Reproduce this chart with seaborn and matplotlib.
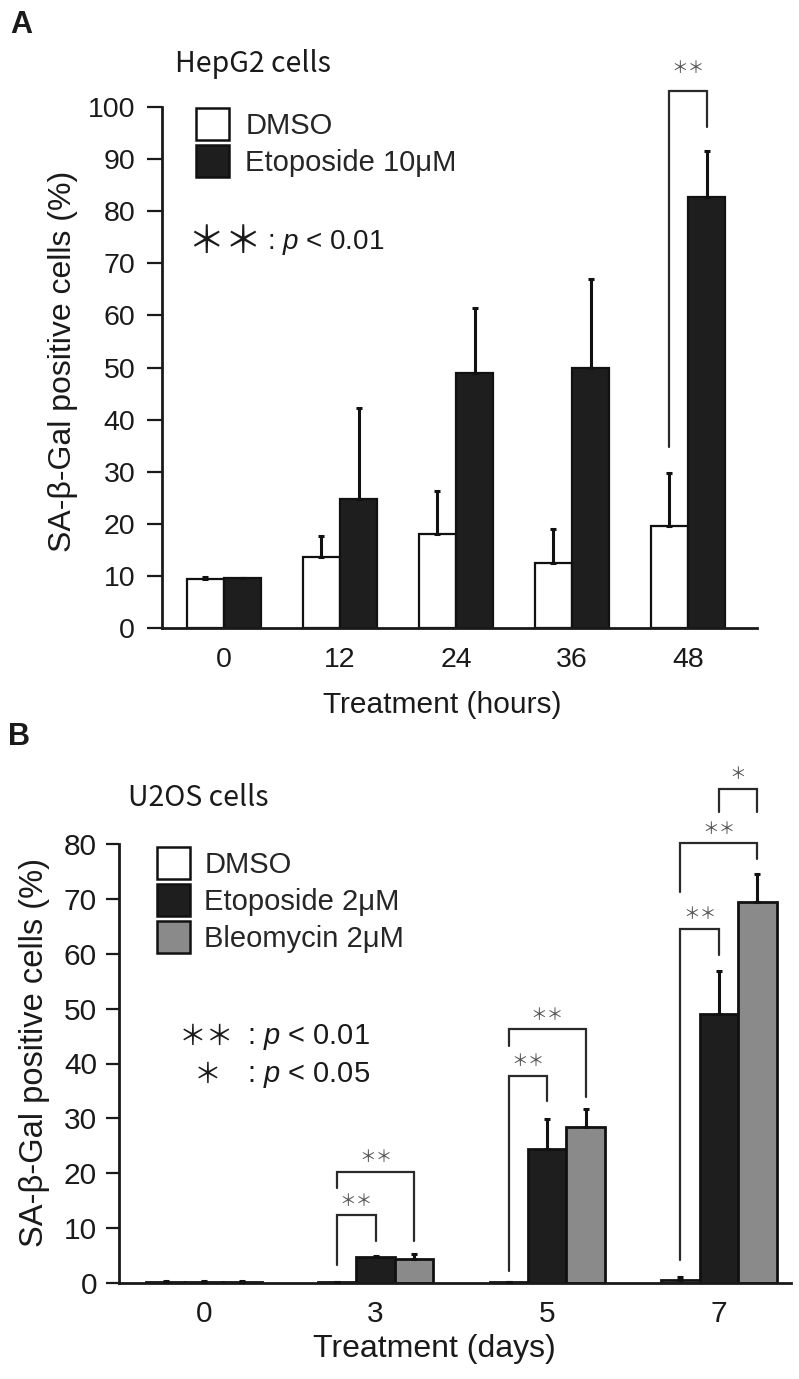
import numpy as np
import pandas as pd
import matplotlib
matplotlib.use("Agg")
import matplotlib.pyplot as plt
from matplotlib.patches import Patch
import seaborn as sns

### ==================== DATA ==================== ###

# panel A - HepG2, hours of treatment
hours = ["0", "12", "24", "36", "48"]
hepg2_dmso = [9.5, 13.7, 18.1, 12.5, 19.6]
hepg2_dmso_sd = [0.2, 4.0, 8.2, 6.5, 10.2]
hepg2_etop = [9.6, 24.8, 49.0, 50.0, 82.7]
hepg2_etop_sd = [0.0, 17.5, 12.5, 16.9, 8.8]

# panel B - U2OS, days of treatment
days = ["0", "3", "5", "7"]
u2os_dmso = [0.2, 0.1, 0.2, 0.5]
u2os_dmso_sd = [0.1, 0.0, 0.0, 0.6]
u2os_etop = [0.2, 4.7, 24.5, 49.1]
u2os_etop_sd = [0.1, 0.2, 5.4, 7.7]
u2os_bleo = [0.2, 4.4, 28.5, 69.5]
u2os_bleo_sd = [0.1, 0.9, 3.2, 5.1]

# significance brackets: (group, hue a, hue b, leg a bottom, leg b bottom, top, stars)
brackets_a = [(4, 0, 1, 34.8, 96.2, 103.1, "＊＊")]
brackets_b = [
    (1, 0, 1, 3.3, 7.7, 12.4, "＊＊"),
    (1, 0, 2, 17.3, 7.7, 20.3, "＊＊"),
    (2, 0, 1, 2.2, 33.2, 37.8, "＊＊"),
    (2, 0, 2, 43.2, 33.9, 46.2, "＊＊"),
    (3, 0, 1, 4.2, 59.8, 64.6, "＊＊"),
    (3, 0, 2, 71.2, 77.2, 80.1, "＊＊"),
    (3, 1, 2, 85.9, 85.8, 90.1, "＊"),
]

### ==================== STYLE ==================== ###

sns.set_style("ticks")
plt.rcParams["font.family"] = ["Liberation Sans", "Noto Sans CJK JP", "DejaVu Sans"]
plt.rcParams["mathtext.fontset"] = "custom"
plt.rcParams["mathtext.it"] = "Liberation Sans:italic"
plt.rcParams["mathtext.rm"] = "Liberation Sans"

TXT = "#1a1a1a"
STAR_FONT = ["Noto Sans CJK JP", "DejaVu Sans"]
TITLE_FONT = ["Noto Sans CJK JP", "DejaVu Sans"]


def bar_panel(ax, df, order, hue_order, colors, width, lw):
    sns.barplot(
        data=df, x="time", y="value", hue="treatment",
        order=order, hue_order=hue_order, palette=colors,
        width=width, errorbar=None, edgecolor="#111111",
        linewidth=lw, legend=False, ax=ax,
    )
    # bar centres, hue-major like seaborn draws them
    centres = {}
    for k, h in enumerate(hue_order):
        for i in range(len(order)):
            p = ax.patches[k * len(order) + i]
            centres[(i, k)] = p.get_x() + p.get_width() / 2
    return centres


def add_errors(ax, centres, k, means, sds):
    xs = [centres[(i, k)] for i in range(len(means))]
    sds = np.array(sds)
    ax.errorbar(xs, means, yerr=[np.zeros_like(sds), sds], fmt="none",
                ecolor="#111111", elinewidth=2.2, capsize=2.5, capthick=2.2,
                zorder=3)


def add_brackets(ax, centres, brackets, star_gap, star_size):
    for g, a, b, ya, yb, top, stars in brackets:
        xa, xb = centres[(g, a)], centres[(g, b)]
        ax.plot([xa, xa, xb, xb], [ya, top, top, yb], color="#2a2a2a",
                lw=1.6, clip_on=False, solid_joinstyle="miter", zorder=4)
        ax.text((xa + xb) / 2, top + star_gap, stars, ha="center", va="center",
                fontsize=star_size, color="#555555", family=STAR_FONT,
                clip_on=False)


def style_axes(ax, ylim, xlim, yticks, fs, ylen, ypad, xpad):
    ax.set_ylim(*ylim)
    ax.set_xlim(*xlim)
    ax.set_yticks(yticks)
    sns.despine(ax=ax)
    for s in ["left", "bottom"]:
        ax.spines[s].set_linewidth(2.0)
        ax.spines[s].set_color("#1a1a1a")
    ax.tick_params(axis="y", length=ylen, width=1.6, color="#1a1a1a",
                   labelsize=fs, pad=ypad, labelcolor=TXT)
    ax.tick_params(axis="x", length=0, labelsize=fs, pad=xpad, labelcolor=TXT)


def legend_boxes(ax, hue_order, colors, anchor, textpad):
    handles = [Patch(facecolor=colors[h], edgecolor="#111111", linewidth=1.8)
               for h in hue_order]
    ax.legend(handles, hue_order, loc="upper left", bbox_to_anchor=anchor,
              frameon=False, fontsize=21, handlelength=1.14, handleheight=1.31,
              handletextpad=textpad, labelspacing=0.17, borderpad=0,
              borderaxespad=0)


fig = plt.figure(figsize=(7.99, 13.79), dpi=100)

### ==================== PANEL A ==================== ###

ax_a = fig.add_axes([162 / 799, 1 - 628 / 1379, 595 / 799, 521 / 1379])
df_a = pd.DataFrame({
    "time": hours * 2,
    "treatment": ["DMSO"] * len(hours) + ["Etoposide 10μM"] * len(hours),
    "value": hepg2_dmso + hepg2_etop,
})
hue_a = ["DMSO", "Etoposide 10μM"]
cols_a = {"DMSO": "white", "Etoposide 10μM": "#1e1e1e"}
cen_a = bar_panel(ax_a, df_a, hours, hue_a, cols_a, 0.64, 1.6)
add_errors(ax_a, cen_a, 0, hepg2_dmso, hepg2_dmso_sd)
add_errors(ax_a, cen_a, 1, hepg2_etop, hepg2_etop_sd)
add_brackets(ax_a, cen_a, brackets_a, 4.2, 12)
style_axes(ax_a, (0, 100), (-0.534, 4.595), range(0, 101, 10), 20.5, 10.8, 8.5, 13.5)
ax_a.set_xlabel("Treatment (hours)", fontsize=21.5, color=TXT)
ax_a.set_ylabel("SA-β-Gal positive cells (%)", fontsize=23, color=TXT)
ax_a.xaxis.label.set_va("baseline")
ax_a.xaxis.set_label_coords(0.4706, -0.163)
ax_a.yaxis.set_label_coords(-0.141, 0.512)

legend_boxes(ax_a, hue_a, cols_a, (0.057, 0.998), 0.55)

ax_a.text(0.105, 0.739, "＊＊", transform=ax_a.transAxes, ha="center",
          va="center", fontsize=27, family=STAR_FONT, color=TXT)
ax_a.text(0.176, 0.739, ": $p$ < 0.01", transform=ax_a.transAxes, ha="left",
          va="center", fontsize=20, color=TXT)

### ==================== PANEL B ==================== ###

ax_b = fig.add_axes([119 / 799, 1 - 1283 / 1379, 672 / 799, 439 / 1379])
df_b = pd.DataFrame({
    "time": days * 3,
    "treatment": ["DMSO"] * len(days) + ["Etoposide 2μM"] * len(days)
                 + ["Bleomycin 2μM"] * len(days),
    "value": u2os_dmso + u2os_etop + u2os_bleo,
})
hue_b = ["DMSO", "Etoposide 2μM", "Bleomycin 2μM"]
cols_b = {"DMSO": "white", "Etoposide 2μM": "#1e1e1e", "Bleomycin 2μM": "#8a8a8a"}
cen_b = bar_panel(ax_b, df_b, days, hue_b, cols_b, 0.672, 2.0)
add_errors(ax_b, cen_b, 0, u2os_dmso, u2os_dmso_sd)
add_errors(ax_b, cen_b, 1, u2os_etop, u2os_etop_sd)
add_errors(ax_b, cen_b, 2, u2os_bleo, u2os_bleo_sd)
add_brackets(ax_b, cen_b, brackets_b, 2.5, 12)
style_axes(ax_b, (0, 80), (-0.495, 3.42), range(0, 81, 10), 21.5, 9.4, 6.5, 12)
ax_b.set_xlabel("Treatment (days)", fontsize=23, color=TXT)
ax_b.set_ylabel("SA-β-Gal positive cells (%)", fontsize=23.5, color=TXT)
ax_b.xaxis.label.set_va("baseline")
ax_b.xaxis.set_label_coords(0.47, -0.169)
ax_b.yaxis.set_label_coords(-0.1025, 0.526)

legend_boxes(ax_b, hue_b, cols_b, (0.0565, 0.993), 0.48)

ax_b.text(0.130, 0.560, "＊＊", transform=ax_b.transAxes, ha="center",
          va="center", fontsize=20, family=STAR_FONT, color=TXT)
ax_b.text(0.1905, 0.560, ": $p$ < 0.01", transform=ax_b.transAxes, ha="left",
          va="center", fontsize=21, color=TXT)
ax_b.text(0.132, 0.474, "＊", transform=ax_b.transAxes, ha="center",
          va="center", fontsize=20, family=STAR_FONT, color=TXT)
ax_b.text(0.1905, 0.474, ": $p$ < 0.05", transform=ax_b.transAxes, ha="left",
          va="center", fontsize=21, color=TXT)

### ==================== LABELS ==================== ###

fig.text(10 / 799, 1 - 33 / 1379, "A", fontsize=22, fontweight="bold", color=TXT)
fig.text(8 / 799, 1 - 745 / 1379, "B", fontsize=22, fontweight="bold", color=TXT)
fig.text(175 / 799, 1 - 72 / 1379, "HepG2 cells", fontsize=20.5, color=TXT,
         family=TITLE_FONT)
fig.text(128 / 799, 1 - 806 / 1379, "U2OS cells", fontsize=20.5, color=TXT,
         family=TITLE_FONT)

fig.savefig("out.png", dpi=100)
